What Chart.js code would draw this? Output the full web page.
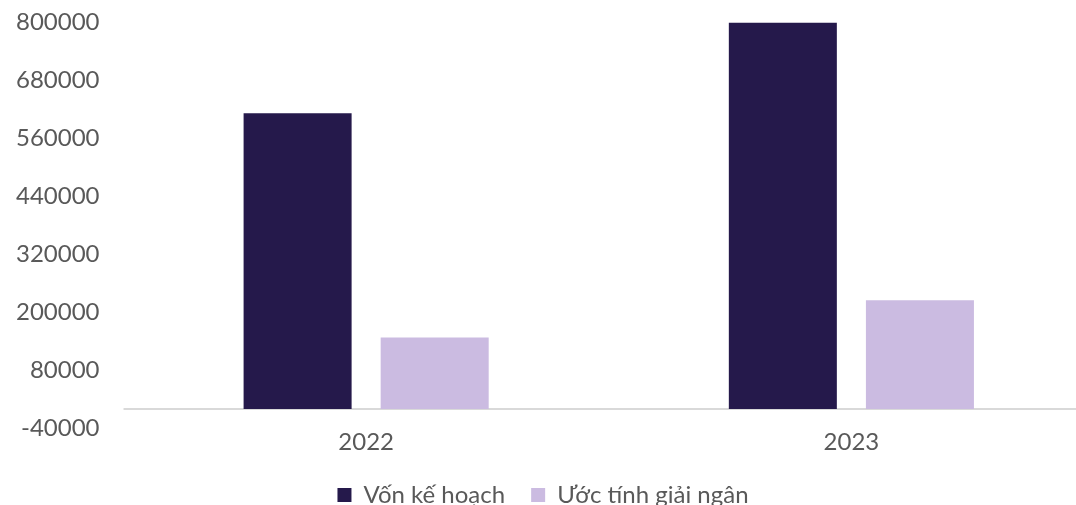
<!DOCTYPE html>
<html>
<head>
<meta charset="utf-8">
<script src="https://cdn.jsdelivr.net/npm/chart.js@4.4.1/dist/chart.umd.min.js"></script>
<style>
  html, body { margin: 0; padding: 0; overflow: hidden; background: #fff; }
  #wrap { width: 1117px; height: 533px; margin-left: -23px; margin-top: -16px; }
</style>
</head>
<body>
<div id="wrap"><canvas id="chart" width="1117" height="533"></canvas></div>
<script>
const years = ['2022', '2023'];
const planned = [612000, 800000];     // Vốn kế hoạch
const disbursed = [148000, 225000];   // Ước tính giải ngân
const yMin = -40000, yMax = 800000, yStep = 120000;

// thin grey line at the zero value
const zeroLine = {
    id: 'zeroLine',
    beforeDatasetsDraw(chart) {
        const { ctx, chartArea, scales } = chart;
        const y = Math.round(scales.y.getPixelForValue(0));
        ctx.save();
        ctx.strokeStyle = '#d9d9d9';
        ctx.lineWidth = 2;
        ctx.beginPath();
        ctx.moveTo(chartArea.left, y);
        ctx.lineTo(chartArea.right, y);
        ctx.stroke();
        ctx.restore();
    }
};

const font = { family: 'Lato, "Open Sans", sans-serif', size: 24 };

new Chart(document.getElementById('chart'), {
    type: 'bar',
    data: {
        labels: years,
        datasets: [{
            label: 'Vốn kế hoạch',
            data: planned,
            backgroundColor: '#25194b'
        }, {
            label: 'Ước tính giải ngân',
            data: disbursed,
            backgroundColor: '#cbbbe1'
        }]
    },
    plugins: [zeroLine],
    options: {
        responsive: false,
        animation: false,
        layout: { padding: { left: 15, top: 0, right: 0, bottom: 0 } },
        datasets: {
            bar: { categoryPercentage: 0.565, barPercentage: 0.788 }
        },
        scales: {
            y: {
                min: yMin,
                max: yMax,
                grid: { display: false, drawTicks: false },
                border: { display: false },
                ticks: {
                    stepSize: yStep,
                    color: '#595959',
                    font,
                    padding: 24,
                    callback: v => String(v)
                }
            },
            x: {
                grid: { display: false, drawTicks: false },
                border: { display: false },
                ticks: { color: '#595959', font, padding: 0 }
            }
        },
        plugins: {
            tooltip: { enabled: false },
            legend: {
                position: 'bottom',
                labels: {
                    color: '#595959',
                    font,
                    boxWidth: 14,
                    boxHeight: 14,
                    padding: 26
                }
            }
        }
    }
});
</script>
</body>
</html>
